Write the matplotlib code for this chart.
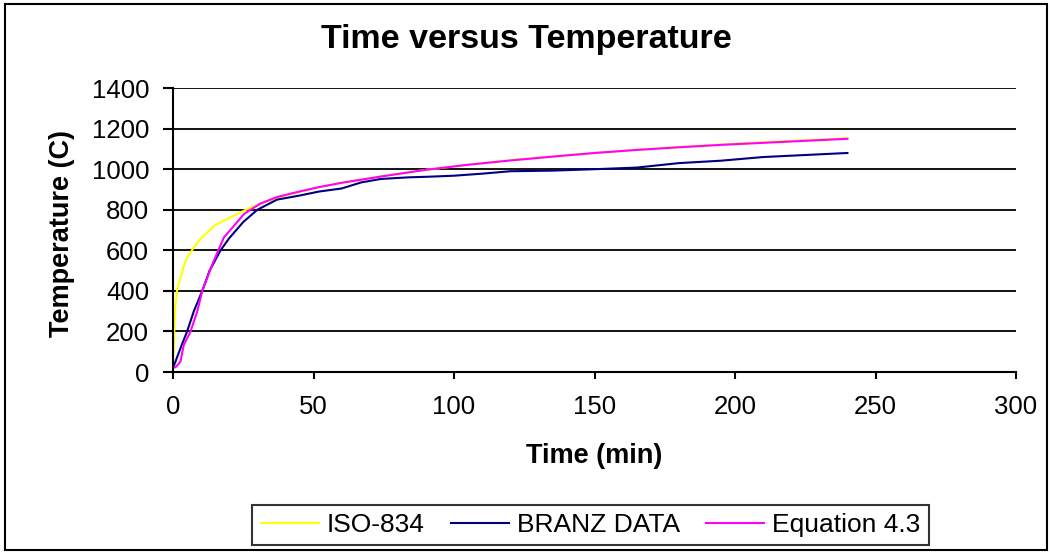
import numpy as np
import matplotlib.pyplot as plt
from matplotlib.patches import Rectangle

plt.rcParams['font.family'] = ['Liberation Sans', 'DejaVu Sans']

# ISO-834 standard fire curve
iso_t = [0, 0.8, 1.5, 2.6, 4, 5, 7.4, 10, 12.2, 15, 19.3, 25.3, 30, 40, 50, 60,
         75, 90, 105, 120, 135, 150, 165, 180, 195, 210, 225, 240]
iso_T = [20, 330, 410, 463, 530, 564, 614, 660, 688, 725, 755, 796, 825, 870,
         905, 933, 968, 997, 1022, 1045, 1063, 1080, 1096, 1110, 1122, 1133, 1143, 1153]

# BRANZ measured data
branz_t = [0, 3, 5, 7.4, 10.4, 13, 16.9, 20, 25, 30, 37, 45, 52, 60, 67, 74,
           84, 91, 100, 110, 120, 135, 150, 165, 180, 195, 210, 225, 240]
branz_T = [20, 130, 200, 300, 400, 500, 600, 660, 740, 800, 850, 870, 890, 905,
           935, 952, 960, 963, 968, 978, 990, 993, 1000, 1008, 1030, 1042, 1060, 1070, 1080]

# Equation 4.3
eq_t = [0, 1, 2.6, 3.8, 6.2, 8.6, 10.4, 14, 18.1, 21, 25.3, 31, 37, 45, 52, 60,
        75, 90, 105, 120, 135, 150, 165, 180, 195, 210, 225, 240]
eq_T = [20, 25, 50, 133, 199, 298, 400, 532, 664, 710, 780, 830, 863, 890,
        912, 933, 966, 997, 1022, 1043, 1062, 1080, 1095, 1108, 1120, 1130, 1140, 1150]

fig = plt.figure(figsize=(10.52, 5.54), dpi=100)
ax = fig.add_axes([0.1645, 0.3285, 0.8013, 0.5125])

ax.plot(iso_t, iso_T, color='#ffff00', lw=1.5, label='ISO-834')
ax.plot(branz_t, branz_T, color='#000080', lw=1.5, label='BRANZ DATA')
ax.plot(eq_t, eq_T, color='#ff00ff', lw=1.5, label='Equation 4.3')

ax.set_xlim(0, 300)
ax.set_ylim(0, 1400)
ax.set_xticks(np.arange(0, 301, 50))
ax.set_yticks(np.arange(0, 1401, 200))
ax.yaxis.grid(True, color='black', lw=1.3)
ax.set_axisbelow(True)
for s in ['top', 'right']:
    ax.spines[s].set_visible(False)
for s in ['left', 'bottom']:
    ax.spines[s].set_linewidth(1.5)
ax.tick_params(labelsize=18.5, width=1.5, direction='out')
ax.tick_params(axis='y', length=7.2, pad=10)
ax.tick_params(axis='x', length=5, pad=11.5)

ax.set_xlabel('Time (min)', fontsize=19.5, fontweight='bold')
ax.xaxis.label.set_va('baseline')
ax.xaxis.set_label_coords(0.5, -0.3204)
ax.set_ylabel('Temperature (C)', fontsize=19.5, fontweight='bold')
ax.yaxis.label.set_va('center')
ax.yaxis.set_label_coords(-0.1323, 0.4877)
fig.text(0.5, 0.9128, 'Time versus Temperature', ha='center', va='baseline',
         fontsize=24.5, fontweight='bold')

leg = fig.legend(loc='center', bbox_to_anchor=(0.5613, 0.0523), ncol=3, fontsize=19,
                 frameon=True, fancybox=False, edgecolor='black', handlelength=2.2,
                 handletextpad=0.3, columnspacing=1.0, borderpad=0.32)
leg.get_frame().set_linewidth(1.5)

fig.patches.append(Rectangle((0.005, 0.007), 0.99, 0.985, transform=fig.transFigure,
                             fill=False, edgecolor='black', lw=1.5))

fig.savefig('out.png', dpi=100)
